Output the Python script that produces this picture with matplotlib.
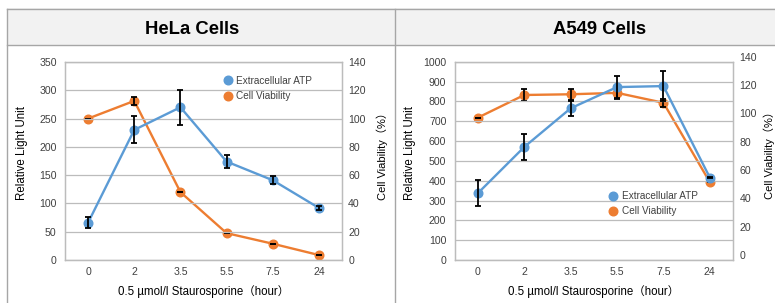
import matplotlib
matplotlib.use("Agg")
import matplotlib.pyplot as plt
import matplotlib.transforms as mtransforms
from matplotlib.lines import Line2D
from matplotlib.patches import Rectangle

plt.rcParams['font.family'] = ['Liberation Sans', 'Noto Sans CJK JP', 'DejaVu Sans']

# ---------------- data ----------------
categories = ["0", "2", "3.5", "5.5", "7.5", "24"]

hela_atp = [66, 230, 270, 174, 141, 92]
hela_atp_err = [10, 24, 31, 11, 7, 3]
hela_viab = [100, 112.5, 48, 19, 11.5, 3.5]
hela_viab_err = [0, 3, 0, 0, 0, 0]

a549_atp = [337, 570, 765, 872, 877, 416]
a549_atp_err = [67, 67, 37, 55, 77, 5]
a549_viab = [100.5, 116.5, 117, 118, 111, 55]
a549_viab_err = [0, 4, 4, 4, 3, 0]

left_ticks_hela = [0, 50, 100, 150, 200, 250, 300, 350]
left_ticks_a549 = [0, 100, 200, 300, 400, 500, 600, 700, 800, 900, 1000]
right_ticks = [0, 20, 40, 60, 80, 100, 120, 140]

titles = ["HeLa Cells", "A549 Cells"]
xlabel = "0.5 µmol/l Staurosporine（hour）"
ylabel_left = "Relative Light Unit"
ylabel_right = "Cell Viability（%）"
legend_labels = ["Extracellular ATP", "Cell Viability"]

BLUE = "#5b9bd5"
ORANGE = "#ed7d31"
GRID = "#bcbcbc"
TXT = "#404040"

W, H = 775, 303
fig = plt.figure(figsize=(W / 100, H / 100), dpi=100)


def fx(px):
    return px / W


def fy(py):
    return 1 - py / H


# panel frames / title band
band = Rectangle((fx(7.3), fy(45)), 1 - fx(7.3), fy(8.5) - fy(45), transform=fig.transFigure,
                 facecolor="#f2f2f2", edgecolor="none", zorder=0)
fig.add_artist(band)
for (x0, y0, x1, y1) in [(7.3, 8.5, 775, 8.5), (7.3, 45, 775, 45),
                         (7.3, 8.5, 7.3, 303), (395.3, 8.5, 395.3, 303)]:
    fig.add_artist(Line2D([fx(x0), fx(x1)], [fy(y0), fy(y1)], transform=fig.transFigure,
                          color="#a6a6a6", lw=1.0))

fig.text(fx(192), fy(29), titles[0], ha="center", va="center", fontsize=13.3, fontweight="bold")
fig.text(fx(600), fy(29), titles[1], ha="center", va="center", fontsize=13.3, fontweight="bold")

panels = [
    dict(rect=(65, 62, 342, 260), atp=hela_atp, atp_err=hela_atp_err, viab=hela_viab,
         viab_err=hela_viab_err, lticks=left_ticks_hela, lmax=350,
         legend_xy=(222.5, 75.5), ylab_l=-0.134, ylab_r=1.124, rshift=0),
    dict(rect=(454.7, 61.7, 733, 260), atp=a549_atp, atp_err=a549_atp_err, viab=a549_viab,
         viab_err=a549_viab_err, lticks=left_ticks_a549, lmax=1000,
         legend_xy=(607.5, 191), ylab_l=-0.139, ylab_r=1.110, rshift=5),
]

x = list(range(len(categories)))

for p in panels:
    l, t, r, b = p["rect"]
    ax = fig.add_axes([fx(l), fy(b), fx(r) - fx(l), fy(t) - fy(b)])
    ax2 = ax.twinx()
    ax.set_zorder(ax2.get_zorder() + 1)
    ax.patch.set_visible(False)

    ax.set_xlim(-0.5, len(categories) - 0.5)
    ax.set_ylim(0, p["lmax"])
    ax2.set_ylim(0, 140)
    ax.set_yticks(p["lticks"])
    ax2.set_yticks(right_ticks)
    ax.set_xticks(x)
    ax.set_xticklabels(categories)

    ax.yaxis.grid(True, color=GRID, lw=0.9)
    ax.set_axisbelow(True)
    for a in (ax, ax2):
        for s in a.spines.values():
            s.set_color(GRID)
            s.set_linewidth(0.9)
    ax.tick_params(axis="both", length=0, labelsize=7.6, labelcolor=TXT)
    ax.tick_params(axis="y", pad=6)
    ax.tick_params(axis="x", pad=5)
    ax2.tick_params(axis="y", length=0, labelsize=7.6, labelcolor=TXT, pad=4.5)

    ax.plot(x, p["atp"], color=BLUE, lw=1.7, marker="o", ms=6.2, zorder=3)
    ax.errorbar(x, p["atp"], yerr=p["atp_err"], fmt="none", ecolor="black",
                elinewidth=1.3, capsize=2.2, capthick=1.3, zorder=5)
    ax2.plot(x, p["viab"], color=ORANGE, lw=1.7, marker="o", ms=6.2, zorder=3)
    ax2.errorbar(x, p["viab"], yerr=p["viab_err"], fmt="none", ecolor="black",
                 elinewidth=1.3, capsize=2.2, capthick=1.3, zorder=5)

    ax.set_xlabel(xlabel, fontsize=8.3, labelpad=6)
    ax.set_ylabel(ylabel_left, fontsize=8.3)
    ax2.set_ylabel(ylabel_right, fontsize=8.0)
    ax.yaxis.set_label_coords(p["ylab_l"], 0.54)
    ax2.yaxis.set_label_coords(p["ylab_r"], 0.54)

    if p["rshift"]:
        off = mtransforms.ScaledTranslation(0, p["rshift"] / 100, fig.dpi_scale_trans)
        for lab in ax2.get_yticklabels():
            lab.set_transform(lab.get_transform() + off)

    handles = [Line2D([], [], color=BLUE, marker="o", ls="none", ms=6.2),
               Line2D([], [], color=ORANGE, marker="o", ls="none", ms=6.2)]
    lx, ly = p["legend_xy"]
    ax.legend(handles, legend_labels, loc="upper left", bbox_to_anchor=(fx(lx), fy(ly)),
              bbox_transform=fig.transFigure, frameon=False, fontsize=7.2,
              borderpad=0, handlelength=1.0, handletextpad=0.4, labelspacing=0.55,
              borderaxespad=0, labelcolor=TXT)

fig.savefig("out.png", dpi=100)
